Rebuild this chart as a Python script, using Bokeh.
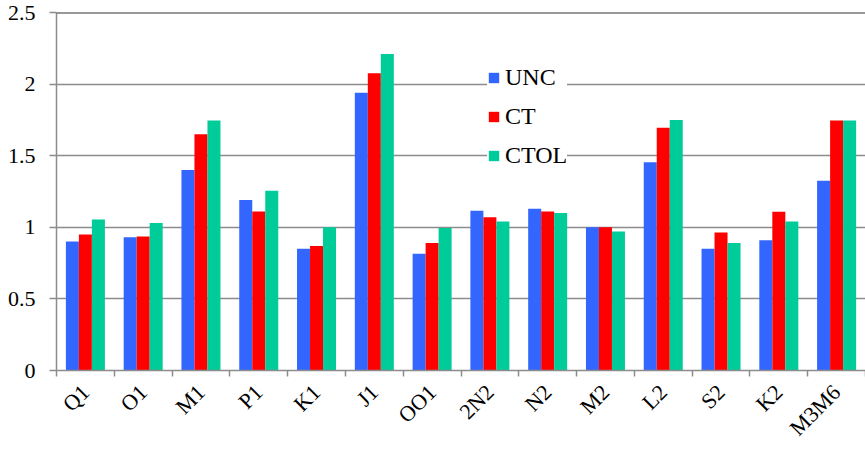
import math
from bokeh.plotting import figure
from bokeh.models import (ColumnDataSource, FixedTicker, Legend, LegendItem,
                          Span, Range1d)
from bokeh.transform import dodge
from bokeh.embed import file_html
from bokeh.resources import INLINE

categories = ["Q1", "O1", "M1", "P1", "K1", "J1", "OO1", "2N2", "N2", "M2",
              "L2", "S2", "K2", "M3M6"]
unc = [0.90, 0.93, 1.40, 1.19, 0.85, 1.94, 0.815, 1.115, 1.13, 1.00, 1.455,
       0.85, 0.91, 1.325]
ct = [0.95, 0.935, 1.65, 1.11, 0.87, 2.075, 0.89, 1.07, 1.11, 1.00, 1.695,
      0.963, 1.108, 1.745]
ctol = [1.055, 1.03, 1.745, 1.255, 1.00, 2.21, 0.995, 1.04, 1.10, 0.97, 1.75,
        0.89, 1.04, 1.745]
series_names = ["UNC", "CT", "CTOL"]
series_colors = ["#3366FF", "#FF0000", "#00CC99"]
y_ticks = [0, 0.5, 1, 1.5, 2, 2.5]
y_tick_labels = ["0", "0.5", "1", "1.5", "2", "2.5"]

FONT = "Liberation Serif"

xpos = [i + 0.5 for i in range(len(categories))]
src = ColumnDataSource(data=dict(x=xpos, cat=categories, UNC=unc, CT=ct, CTOL=ctol))

p = figure(width=865, height=452, output_backend="svg", toolbar_location=None,
           x_range=Range1d(0, len(categories)), y_range=Range1d(0, 2.5),
           min_border_left=56, min_border_right=0, min_border_top=12,
           min_border_bottom=82)
p.outline_line_color = None
p.background_fill_color = "white"
p.border_fill_color = "white"

bw = 0.225
offsets = [-bw, 0.0, bw]
renderers = []
for name, col, off in zip(series_names, series_colors, offsets):
    r = p.vbar(x=dodge("x", off, range=p.x_range), top=name, width=bw,
               source=src, fill_color=col, line_color=None)
    renderers.append(r)

# x axis: labels at centres, tick marks at category boundaries (minor ticks)
xa = p.xaxis[0]
xa.ticker = FixedTicker(ticks=xpos, minor_ticks=list(range(len(categories) + 1)))
xa.major_label_overrides = {x: c for x, c in zip(xpos, categories)}
xa.major_label_orientation = math.pi / 4
xa.major_tick_out = 0
xa.major_tick_in = 0
xa.minor_tick_out = 6
xa.minor_tick_in = 0
xa.minor_tick_line_color = "#8c8c8c"
xa.minor_tick_line_width = 1.5
xa.axis_line_color = "#8c8c8c"
xa.axis_line_width = 1.5
xa.major_label_text_font = FONT
xa.major_label_text_font_size = "22px"
xa.major_label_text_color = "black"
xa.major_label_standoff = 12

ya = p.yaxis[0]
ya.ticker = FixedTicker(ticks=y_ticks, minor_ticks=[])
ya.major_label_overrides = {t: l for t, l in zip(y_ticks, y_tick_labels)}
ya.major_tick_out = 7
ya.major_tick_in = 0
ya.major_tick_line_color = "#8c8c8c"
ya.major_tick_line_width = 1.5
ya.minor_tick_line_color = None
ya.axis_line_color = "#8c8c8c"
ya.axis_line_width = 1.5
ya.major_label_text_font = FONT
ya.major_label_text_font_size = "22px"
ya.major_label_text_color = "black"
ya.major_label_standoff = 14

p.xgrid.grid_line_color = None
p.ygrid.ticker = FixedTicker(ticks=y_ticks)
p.ygrid.grid_line_color = "#8c8c8c"
p.ygrid.grid_line_width = 1.5

top_line = Span(location=2.5, dimension="width", line_color="#333333", line_width=2)
p.add_layout(top_line)

legend = Legend(items=[LegendItem(label=n, renderers=[r]) for n, r in zip(series_names, renderers)],
                location=(431, 201), orientation="vertical",
                label_text_font=FONT, label_text_font_size="24px",
                label_text_color="black",
                glyph_width=13, glyph_height=13, label_height=28,
                label_standoff=5, spacing=11, padding=15, margin=0,
                border_line_color=None, background_fill_color="white",
                background_fill_alpha=1.0)
p.add_layout(legend, "center")

open("out.html", "w").write(file_html(p, INLINE))
